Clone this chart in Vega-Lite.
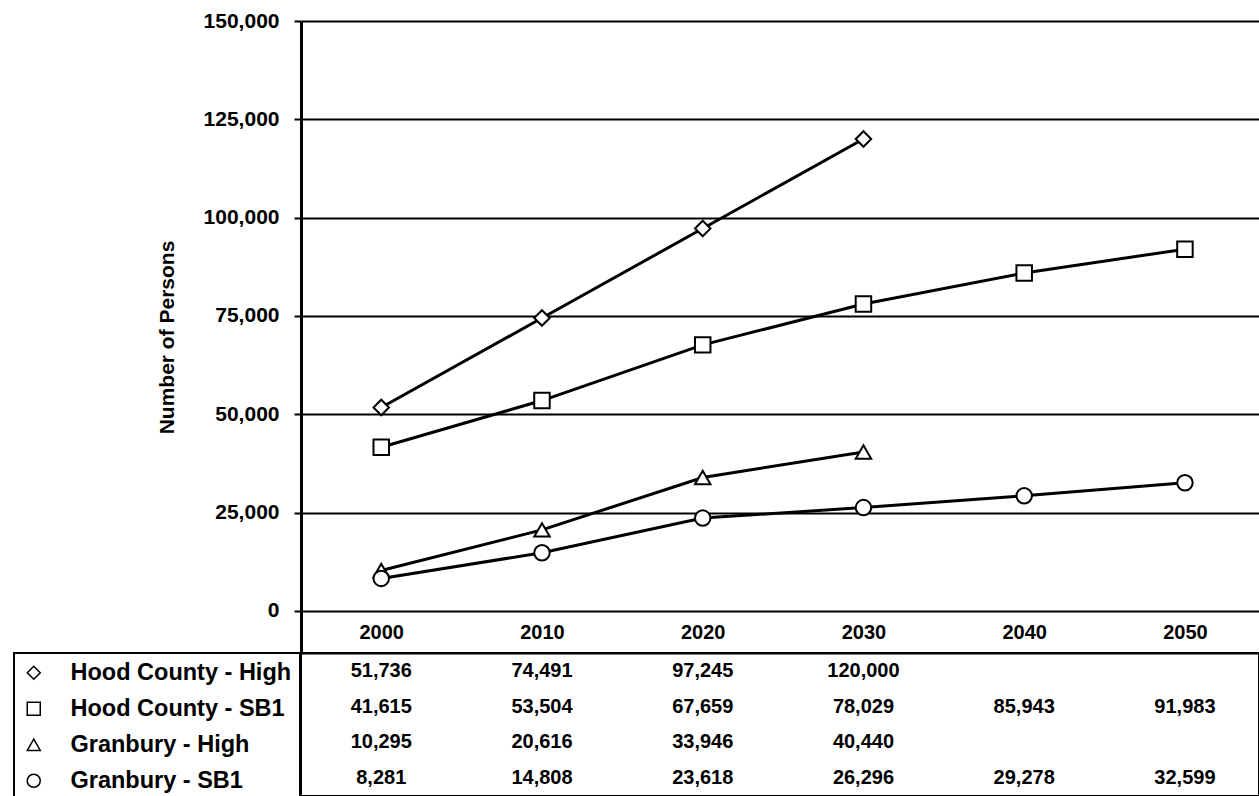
{
  "$schema": "https://vega.github.io/schema/vega-lite/v6.json",
  "padding": {"left": 13, "top": 10, "right": 0, "bottom": 0},
  "background": "white",
  "config": {"font": "Liberation Sans", "legend": {"strokeWidth": 2}},
  "datasets": {
    "pop": [
      {"series": "Hood County - High", "year": "2000", "value": 51736},
      {"series": "Hood County - High", "year": "2010", "value": 74491},
      {"series": "Hood County - High", "year": "2020", "value": 97245},
      {"series": "Hood County - High", "year": "2030", "value": 120000},
      {"series": "Hood County - SB1", "year": "2000", "value": 41615},
      {"series": "Hood County - SB1", "year": "2010", "value": 53504},
      {"series": "Hood County - SB1", "year": "2020", "value": 67659},
      {"series": "Hood County - SB1", "year": "2030", "value": 78029},
      {"series": "Hood County - SB1", "year": "2040", "value": 85943},
      {"series": "Hood County - SB1", "year": "2050", "value": 91983},
      {"series": "Granbury - High", "year": "2000", "value": 10295},
      {"series": "Granbury - High", "year": "2010", "value": 20616},
      {"series": "Granbury - High", "year": "2020", "value": 33946},
      {"series": "Granbury - High", "year": "2030", "value": 40440},
      {"series": "Granbury - SB1", "year": "2000", "value": 8281},
      {"series": "Granbury - SB1", "year": "2010", "value": 14808},
      {"series": "Granbury - SB1", "year": "2020", "value": 23618},
      {"series": "Granbury - SB1", "year": "2030", "value": 26296},
      {"series": "Granbury - SB1", "year": "2040", "value": 29278},
      {"series": "Granbury - SB1", "year": "2050", "value": 32599}
    ]
  },
  "bounds": "flush",
  "spacing": 0,
  "vconcat": [
    {
      "width": 958,
      "height": 632,
      "view": {"stroke": null},
      "data": {"name": "pop"},
      "encoding": {
        "x": {
          "field": "year", "type": "ordinal",
          "scale": {"type": "point", "padding": 0.48, "align": 0.52},
          "axis": {
            "title": null, "orient": "bottom", "labelAngle": 0,
            "labelFontSize": 20, "labelFontWeight": "bold", "labelColor": "black",
            "labelBaseline": "middle", "labelPadding": -21,
            "ticks": false, "tickSize": 0,
            "domainColor": "black", "domainWidth": 2, "grid": false
          }
        },
        "y": {
          "field": "value", "type": "quantitative",
          "scale": {"domain": [-10678, 150000], "nice": false, "zero": false},
          "axis": {
            "title": "Number of Persons",
            "values": [0, 25000, 50000, 75000, 100000, 125000, 150000],
            "format": ",.0f",
            "grid": true, "gridColor": "black", "gridWidth": 2, "gridOpacity": 1,
            "domainColor": "black", "domainWidth": 3,
            "tickColor": "black", "tickWidth": 2, "tickSize": 7,
            "labelFontSize": 21, "labelFontWeight": "bold", "labelColor": "black", "labelPadding": 15,
            "titleFontSize": 21, "titleFontWeight": "bold", "titleColor": "black", "titlePadding": 26
          }
        }
      },
      "layer": [
        {
          "mark": {"type": "line", "stroke": "black", "strokeWidth": 3},
          "encoding": {"detail": {"field": "series", "type": "nominal"}}
        },
        {
          "mark": {"type": "point", "filled": true, "fill": "white", "stroke": "black", "strokeWidth": 2, "size": 240, "opacity": 1},
          "encoding": {
            "shape": {
              "field": "series", "type": "nominal",
              "scale": {
                "domain": ["Hood County - High", "Hood County - SB1", "Granbury - High", "Granbury - SB1"],
                "range": ["diamond", "square", "triangle-up", "circle"]
              },
              "legend": {
                "title": null, "orient": "none", "legendX": -287, "legendY": 632,
                "direction": "vertical", "padding": 8, "rowPadding": 11,
                "strokeColor": "black",
                "symbolSize": 169, "labelOffset": 25,
                "labelFontSize": 23.5, "labelFontWeight": "bold", "labelColor": "black", "labelLimit": 400
              }
            }
          }
        }
      ]
    },
    {
      "width": 958,
      "height": 143,
      "view": {"stroke": "black", "strokeWidth": 2},
      "data": {"name": "pop"},
      "mark": {"type": "text", "fontSize": 20, "fontWeight": "bold", "fill": "black"},
      "encoding": {
        "x": {
          "field": "year", "type": "ordinal",
          "scale": {"type": "point", "padding": 0.48, "align": 0.52},
          "axis": null
        },
        "y": {
          "field": "series", "type": "nominal",
          "sort": ["Hood County - High", "Hood County - SB1", "Granbury - High", "Granbury - SB1"],
          "scale": {"type": "point", "padding": 0.5},
          "axis": null
        },
        "text": {"field": "value", "type": "quantitative", "format": ","}
      }
    }
  ]
}
